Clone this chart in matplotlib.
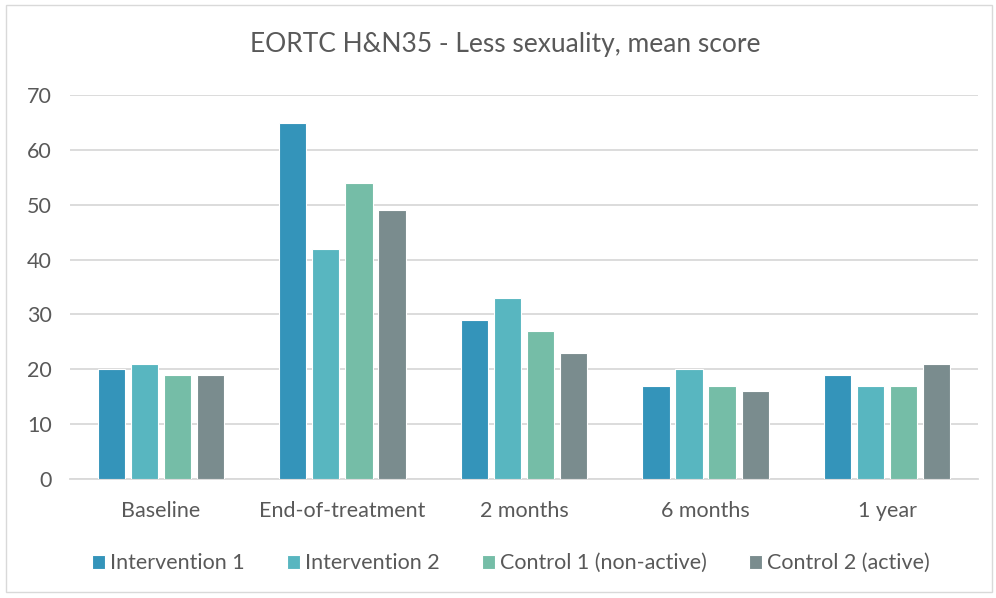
import numpy as np
import matplotlib.pyplot as plt
from matplotlib.patches import Rectangle

plt.rcParams['font.family'] = ['Lato', 'DejaVu Sans']

categories = ["Baseline", "End-of-treatment", "2 months", "6 months", "1 year"]
series_names = ["Intervention 1", "Intervention 2", "Control 1 (non-active)", "Control 2 (active)"]
intervention1 = [20, 65, 29, 17, 19]
intervention2 = [21, 42, 33, 20, 17]
control1 = [19, 54, 27, 17, 17]
control2 = [19, 49, 23, 16, 21]
colors = ["#3494BA", "#58B6C0", "#75BDA7", "#7A8C8E"]

fig = plt.figure(figsize=(9.96, 5.98), dpi=100)
ax = fig.add_axes([0.0703, 0.199, 0.9116, 0.642])

x = np.arange(len(categories))
step = 0.182
width = 0.15
for i, (vals, name) in enumerate(zip([intervention1, intervention2, control1, control2], series_names)):
    ax.bar(x + (i - 1.5) * step, vals, width, color=colors[i], label=name,
           edgecolor="white", linewidth=0.8, zorder=3)

ax.set_xlim(-0.5, len(categories) - 0.5)
ax.set_ylim(0, 70)
ax.set_yticks(range(0, 71, 10))
ax.set_xticks(x)
ax.set_xticklabels(categories)
ax.yaxis.grid(True, color="#D9D9D9", linewidth=1.3, zorder=0)
for s in ["top", "right", "left"]:
    ax.spines[s].set_visible(False)
ax.spines["bottom"].set_color("#D9D9D9")
ax.spines["bottom"].set_linewidth(1.3)
ax.tick_params(axis="both", length=0, labelsize=15.5, labelcolor="#595959")
ax.tick_params(axis="y", pad=13)
ax.tick_params(axis="x", pad=16)

fig.text(0.507, 0.925, "EORTC H&N35 - Less sexuality, mean score",
         ha="center", va="center", fontsize=19, color="#595959")

fig.legend(loc="center", bbox_to_anchor=(0.513, 0.058), ncol=4, frameon=False,
           fontsize=15.5, handlelength=0.6, handleheight=0.6, handletextpad=0.25,
           columnspacing=1.95, labelcolor="#595959")

fig.patches.append(Rectangle((0.006, 0.01), 0.99, 0.982, transform=fig.transFigure,
                             fill=False, edgecolor="#D9D9D9", linewidth=1))

fig.savefig("out.png", dpi=100)
